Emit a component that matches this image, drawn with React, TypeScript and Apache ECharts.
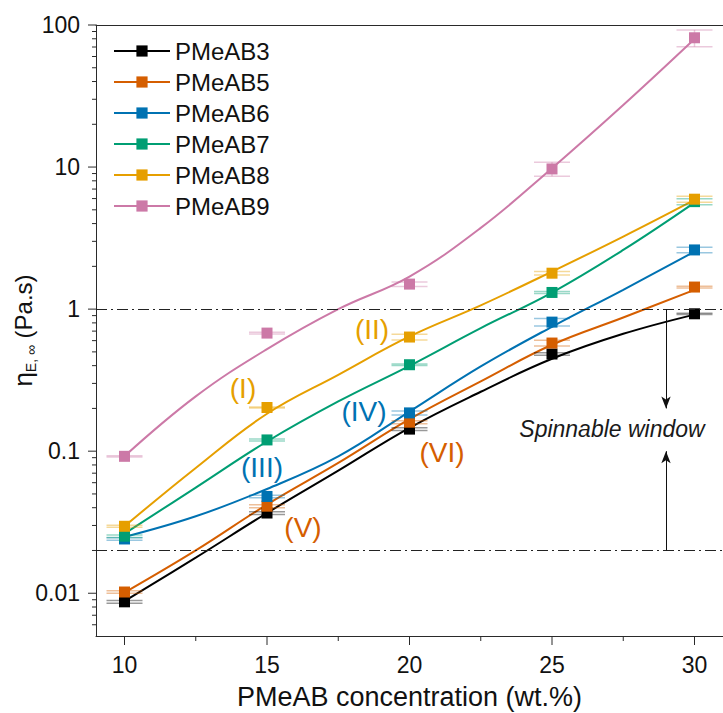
import React, { useEffect, useRef } from 'react';
import * as echarts from 'echarts';

const FONT = '"Liberation Sans", Arial, Helvetica, sans-serif';
const AXIS_COLOR = '#2a2a2a';

const seriesNames = ['PMeAB3', 'PMeAB5', 'PMeAB6', 'PMeAB7', 'PMeAB8', 'PMeAB9'];
const seriesColors = ['#000000', '#D55E00', '#0072B2', '#009E73', '#E69F00', '#CC79A7'];

// measured points
const concentrations = [10, 15, 20, 25, 30];
const pmeab3 = [0.0087, 0.0367, 0.143, 0.483, 0.927];
const pmeab5 = [0.0102, 0.041, 0.16, 0.577, 1.43];
const pmeab6 = [0.0241, 0.048, 0.186, 0.81, 2.61];
const pmeab7 = [0.0252, 0.12, 0.406, 1.31, 5.71];
const pmeab8 = [0.0296, 0.203, 0.636, 1.79, 5.94];
const pmeab9 = [0.092, 0.678, 1.5, 9.7, 81.3];

// error (±) of the measured points
const err3 = [0.0002, 0.0008, 0.003, 0.01, 0.01];
const err5 = [0.0002, 0.001, 0.004, 0.027, 0.02];
const err6 = [0.0005, 0.001, 0.006, 0.05, 0.12];
const err7 = [0.0005, 0.002, 0.005, 0.02, 0.28];
const err8 = [0.0005, 0.002, 0.03, 0.05, 0.28];
const err9 = [0.001, 0.01, 0.055, 1.1, 11];

// fitted curves
const fitConcentrations = [10, 12.5, 15, 17.5, 20, 22.5, 25, 27.5, 30];
const fit3 = [0.0088, 0.0178, 0.0367, 0.0729, 0.146, 0.262, 0.447, 0.67, 0.915];
const fit5 = [0.0101, 0.02, 0.0421, 0.0826, 0.168, 0.31, 0.561, 0.873, 1.367];
const fit6 = [0.0249, 0.0348, 0.0542, 0.0919, 0.19, 0.395, 0.751, 1.367, 2.54];
const fit7 = [0.0263, 0.0554, 0.117, 0.224, 0.399, 0.735, 1.308, 2.61, 5.62];
const fit8 = [0.0296, 0.0762, 0.1835, 0.345, 0.642, 1.063, 1.838, 3.24, 5.87];
const fit9 = [0.0922, 0.243, 0.523, 1.0, 1.696, 3.73, 9.81, 27.3, 79.6];

const measured = [pmeab3, pmeab5, pmeab6, pmeab7, pmeab8, pmeab9];
const errors = [err3, err5, err6, err7, err8, err9];
const fits = [fit3, fit5, fit6, fit7, fit8, fit9];

// axis ranges and ticks
const X_MIN = 9;
const X_MAX = 31;
const Y_MIN = 0.005;
const Y_MAX = 100;
const xMajorTicks = [10, 15, 20, 25, 30];
const xMinorTicks = [12.5, 17.5, 22.5, 27.5];
const yMajorTicks = [0.01, 0.1, 1, 10, 100];
const yMinorTicks = [
  0.006, 0.007, 0.008, 0.009,
  0.02, 0.03, 0.04, 0.05, 0.06, 0.07, 0.08, 0.09,
  0.2, 0.3, 0.4, 0.5, 0.6, 0.7, 0.8, 0.9,
  2, 3, 4, 5, 6, 7, 8, 9,
  20, 30, 40, 50, 60, 70, 80, 90,
];

// spinnable window limits
const spinUpper = 1;
const spinLower = 0.02;
const arrowX = 29;
const arrowTipDown = 0.2;
const arrowTipUp = 0.1;

export default function App() {
  const ref = useRef<HTMLDivElement>(null);

  useEffect(() => {
    if (!ref.current) return;
    const chart = echarts.init(ref.current, undefined, { renderer: 'svg' });

    const lineSeries = seriesNames.map((name, i) => ({
      type: 'line',
      name,
      data: fitConcentrations.map((x, j) => [x, fits[i][j]]),
      smooth: 0.4,
      symbol: 'rect',
      showSymbol: false,
      color: seriesColors[i],
      itemStyle: { color: seriesColors[i] },
      lineStyle: { color: seriesColors[i], width: 2 },
      z: 2,
      silent: true,
      ...(i === 0
        ? {
            markLine: {
              silent: true,
              symbol: ['none', 'none'],
              label: { show: false },
              emphasis: { disabled: true },
              lineStyle: { color: '#222', width: 1, type: [11, 4, 2, 4] },
              data: [
                { yAxis: spinUpper },
                { yAxis: spinLower },
                [
                  { coord: [arrowX, spinUpper], symbol: 'none', lineStyle: { type: 'solid', color: '#111', width: 1 } },
                  { coord: [arrowX, arrowTipDown], symbol: 'arrow', symbolSize: [7, 12] },
                ],
                [
                  { coord: [arrowX, spinLower], symbol: 'none', lineStyle: { type: 'solid', color: '#111', width: 1 } },
                  { coord: [arrowX, arrowTipUp], symbol: 'arrow', symbolSize: [7, 12] },
                ],
              ],
            },
          }
        : {}),
    }));

    const errorSeries = seriesNames.map((name, i) => ({
      type: 'custom',
      name: name + ' error',
      silent: true,
      z: 3,
      data: concentrations.map((c, j) => [c, measured[i][j], errors[i][j]]),
      renderItem: (_params: any, api: any) => {
        const x = api.value(0);
        const y = api.value(1);
        const e = api.value(2);
        const lo = api.coord([x, Math.max(y - e, Y_MIN)]);
        const hi = api.coord([x, y + e]);
        const hw = 18;
        const st = { stroke: seriesColors[i], lineWidth: 1.5, opacity: 0.4 };
        return {
          type: 'group',
          children: [
            { type: 'line', shape: { x1: lo[0], y1: lo[1], x2: hi[0], y2: hi[1] }, style: st },
            { type: 'line', shape: { x1: lo[0] - hw, y1: lo[1], x2: lo[0] + hw, y2: lo[1] }, style: st },
            { type: 'line', shape: { x1: hi[0] - hw, y1: hi[1], x2: hi[0] + hw, y2: hi[1] }, style: st },
          ],
        };
      },
    }));

    const scatterSeries = seriesNames.map((name, i) => ({
      type: 'scatter',
      name: name + ' data',
      data: concentrations.map((c, j) => [c, measured[i][j]]),
      symbol: 'rect',
      symbolSize: 11,
      itemStyle: { color: seriesColors[i], opacity: 1 },
      z: 4,
      silent: true,
    }));

    const xTickSeries = {
      type: 'custom',
      name: 'x ticks',
      silent: true,
      clip: false,
      z: 5,
      data: xMajorTicks.map((v) => [v, Y_MIN, 9]).concat(xMinorTicks.map((v) => [v, Y_MIN, 5])),
      renderItem: (_p: any, api: any) => {
        const p = api.coord([api.value(0), Y_MIN]);
        const len = api.value(2);
        return {
          type: 'line',
          shape: { x1: p[0], y1: p[1], x2: p[0], y2: p[1] + len },
          style: { stroke: AXIS_COLOR, lineWidth: 1 },
        };
      },
    };

    const yTickSeries = {
      type: 'custom',
      name: 'y ticks',
      silent: true,
      clip: false,
      z: 5,
      data: yMajorTicks.map((v) => [X_MIN, v, 8]).concat(yMinorTicks.map((v) => [X_MIN, v, 4])),
      renderItem: (_p: any, api: any) => {
        const p = api.coord([X_MIN, api.value(1)]);
        const len = api.value(2);
        return {
          type: 'line',
          shape: { x1: p[0] - len, y1: p[1], x2: p[0], y2: p[1] },
          style: { stroke: AXIS_COLOR, lineWidth: 1 },
        };
      },
    };

    const textStyle = (text: string, x: number, y: number, color: string, size: number, italic = false) => ({
      type: 'text',
      x,
      y,
      silent: true,
      z: 10,
      style: {
        text,
        fill: color,
        fontSize: size,
        fontFamily: FONT,
        fontStyle: italic ? 'italic' : 'normal',
        textAlign: 'center',
        textVerticalAlign: 'middle',
        align: 'center',
        verticalAlign: 'middle',
      },
    });

    chart.setOption({
      animation: false,
      backgroundColor: '#ffffff',
      textStyle: { fontFamily: FONT },
      grid: { left: 96, right: 0, top: 25, bottom: 77, containLabel: false, outerBoundsMode: 'none' },
      legend: {
        data: seriesNames,
        orient: 'vertical',
        left: 108,
        top: 34,
        itemWidth: 56,
        itemHeight: 14,
        itemGap: 7,
        selectedMode: false,
        textStyle: { fontSize: 24, fontFamily: FONT, color: '#111', lineHeight: 23.4 },
      },
      xAxis: [
        {
          type: 'value',
          min: X_MIN,
          max: X_MAX,
          interval: 1,
          name: 'PMeAB concentration (wt.%)',
          nameLocation: 'middle',
          nameGap: 47,
          nameMoveOverlap: false,
          nameTextStyle: { fontSize: 27, fontFamily: FONT, color: '#111' },
          axisLine: { show: true, onZero: false, lineStyle: { color: AXIS_COLOR, width: 1 } },
          axisTick: { show: false },
          minorTick: { show: false },
          splitLine: { show: false },
          axisLabel: {
            show: true,
            margin: 17,
            fontSize: 23,
            fontFamily: FONT,
            color: '#111',
            showMinLabel: false,
            showMaxLabel: false,
            hideOverlap: false,
            formatter: (v: number) => (Math.abs(v % 5) < 1e-9 ? String(Math.round(v)) : ''),
          },
        },
        {
          type: 'value',
          position: 'top',
          min: X_MIN,
          max: X_MAX,
          axisLine: { show: true, onZero: false, lineStyle: { color: AXIS_COLOR, width: 1 } },
          axisTick: { show: false },
          axisLabel: { show: false },
          splitLine: { show: false },
        },
      ],
      yAxis: {
        type: 'log',
        logBase: 10,
        min: Y_MIN,
        max: Y_MAX,
        name: '{eta|η}{sub|E, ∞} {main|(Pa.s)}',
        nameLocation: 'middle',
        nameGap: 58,
        nameMoveOverlap: false,
        nameTextStyle: {
          fontSize: 24,
          fontFamily: FONT,
          color: '#111',
          rich: {
            eta: { fontSize: 26, fontFamily: FONT, color: '#111', lineHeight: 30 },
            sub: { fontSize: 14, fontFamily: FONT, color: '#111', lineHeight: 14, verticalAlign: 'bottom' },
            main: { fontSize: 24, fontFamily: FONT, color: '#111', lineHeight: 30 },
          },
        },
        axisLine: { show: true, onZero: false, lineStyle: { color: AXIS_COLOR, width: 1 } },
        axisTick: { show: false },
        minorTick: { show: false },
        splitLine: { show: false },
        axisLabel: {
          margin: 16,
          fontSize: 23,
          fontFamily: FONT,
          color: '#111',
          showMinLabel: false,
          formatter: (v: number) => String(Number(v.toPrecision(6))),
        },
      },
      graphic: [
        textStyle('(I)', 243, 388, seriesColors[4], 28),
        textStyle('(II)', 372, 329, seriesColors[4], 28),
        textStyle('(III)', 262, 467, seriesColors[2], 28),
        textStyle('(IV)', 364, 411, seriesColors[2], 28),
        textStyle('(V)', 303, 527, seriesColors[1], 28),
        textStyle('(VI)', 442, 452, seriesColors[1], 28),
        textStyle('Spinnable window', 612, 429, '#1a1a1a', 23, true),
      ],
      series: [...lineSeries, ...errorSeries, ...scatterSeries, xTickSeries, yTickSeries],
    });

    return () => {
      chart.dispose();
    };
  }, []);

  return (
    <div
      ref={ref}
      style={{ position: 'absolute', left: 0, top: 0, width: 723, height: 713, background: '#fff' }}
    />
  );
}
